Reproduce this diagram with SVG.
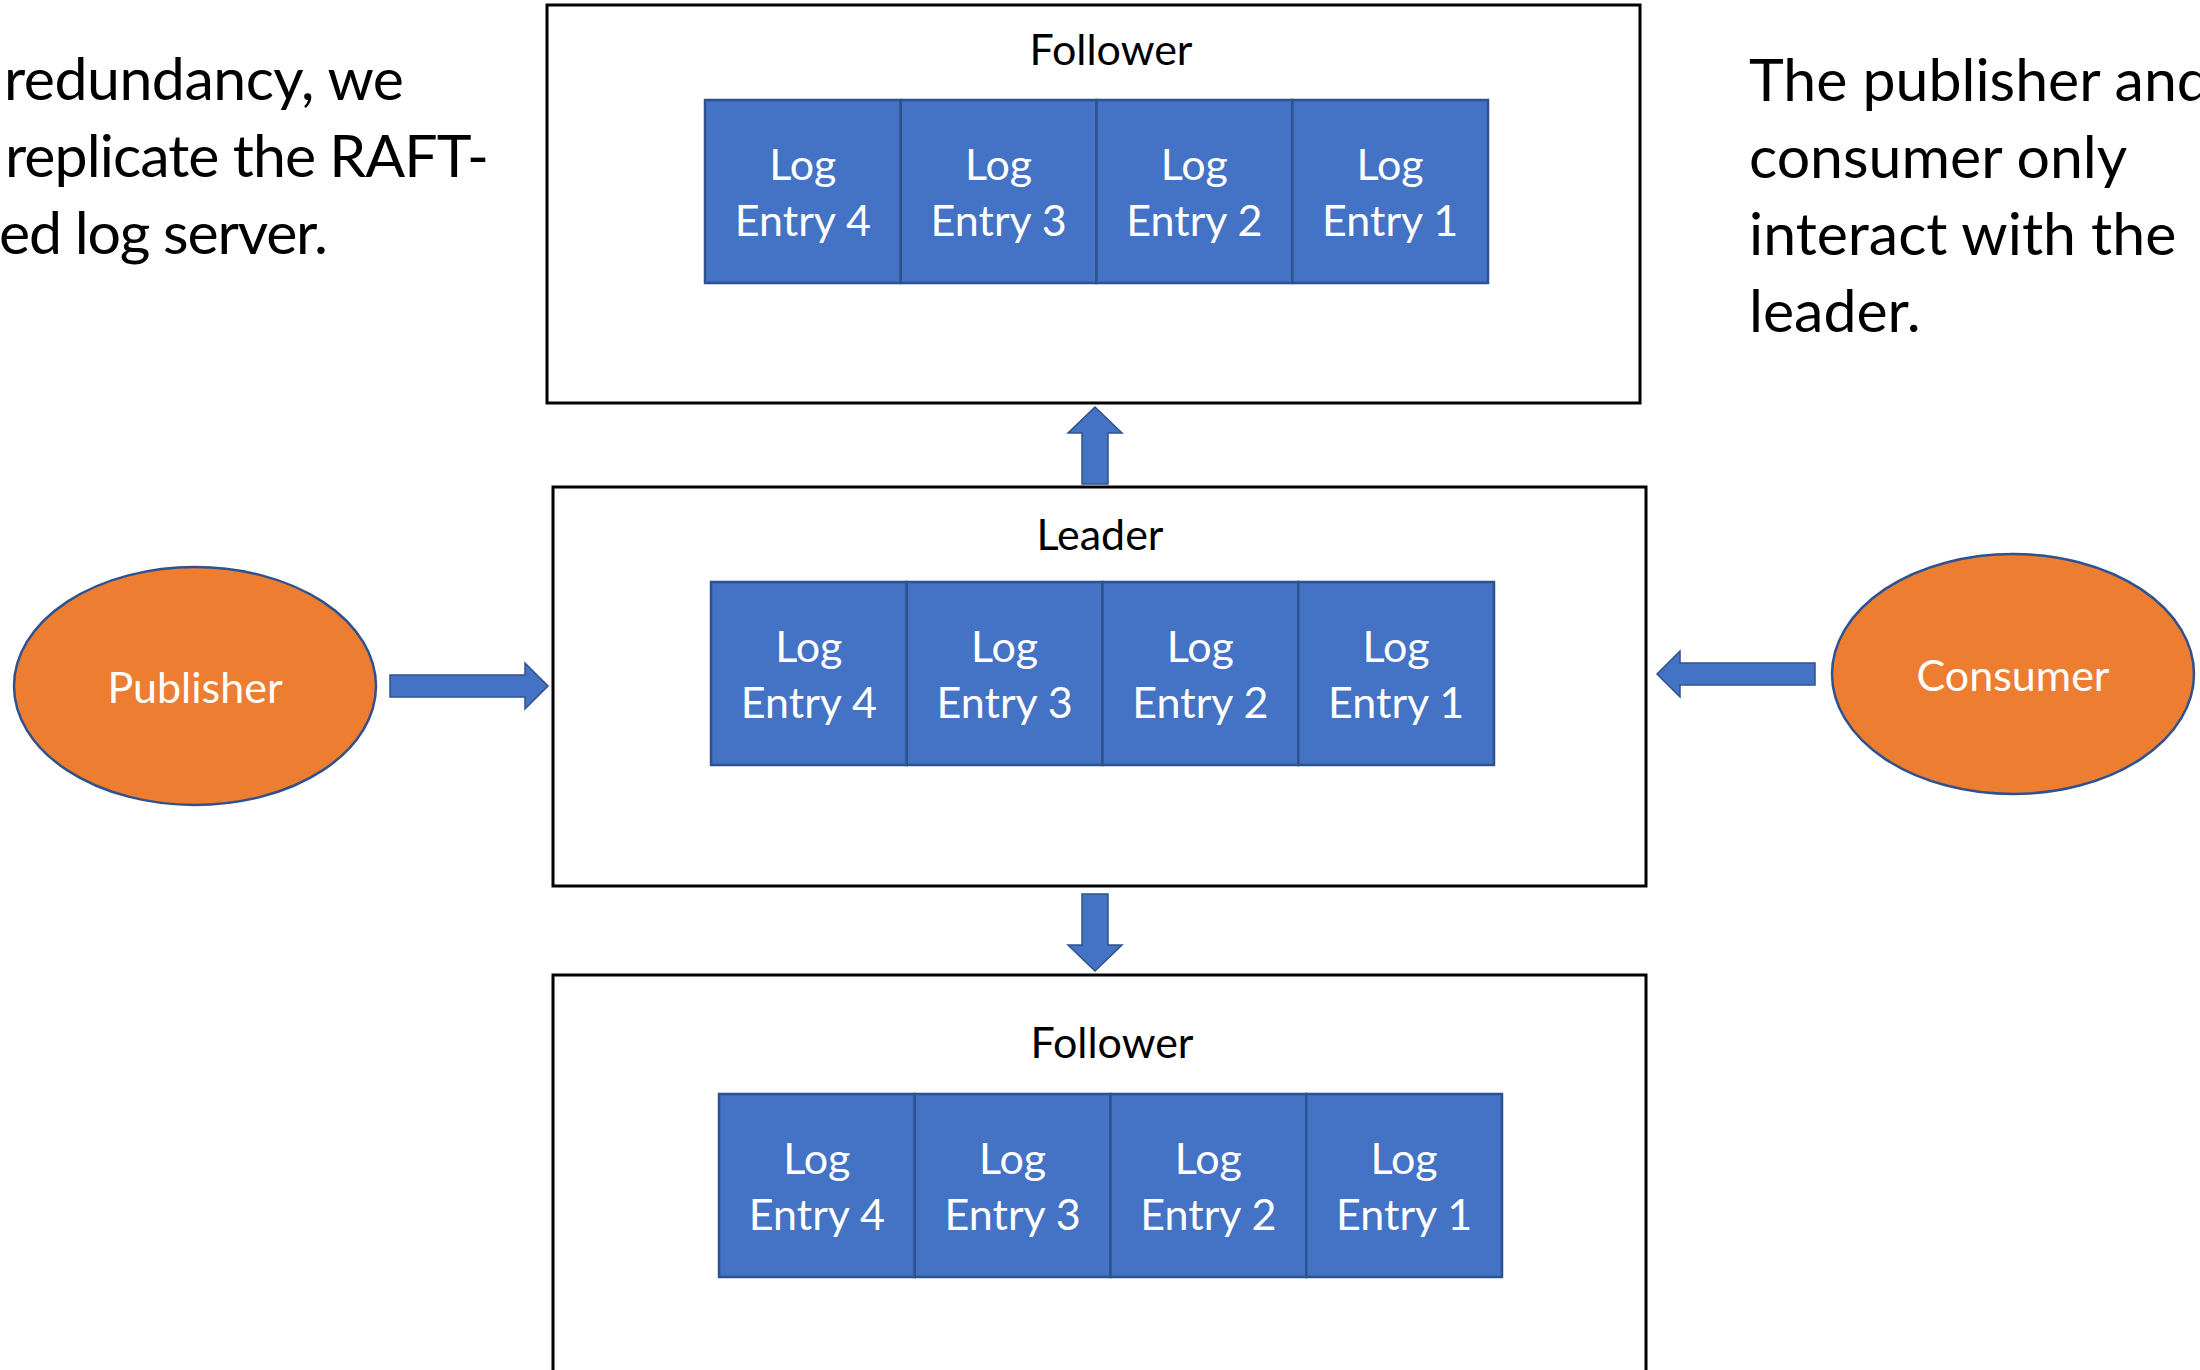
<svg xmlns="http://www.w3.org/2000/svg" width="2200" height="1370" viewBox="0 0 2200 1370">
  <style>
    .box { fill: #ffffff; stroke: #000000; stroke-width: 3; }
    .cell { fill: #4472C4; stroke: #2F528F; stroke-width: 2.5; }
    .ell { fill: #ED7D31; stroke: #2F528F; stroke-width: 2.5; }
    .arrow { fill: #4472C4; stroke: #2F528F; stroke-width: 1.5; }
    .t { font-family: Lato, "Open Sans", sans-serif; }
    .title { font-size: 43px; fill: #000000; text-anchor: middle; }
    .ct { font-size: 43px; fill: #ffffff; text-anchor: middle; }
    .para { font-size: 59px; fill: #000000; }
  </style>
  <rect width="2200" height="1370" fill="#ffffff"/>

  <g id="note-left" class="t para">
    <text x="4" y="100" textLength="400">redundancy, we</text>
    <text x="5" y="177" textLength="484">replicate the RAFT-</text>
    <text x="-1" y="254" textLength="329">ed log server.</text>
  </g>
  <g id="note-right" class="t para">
    <text x="1749" y="101">The publisher and</text>
    <text x="1749" y="178">consumer only</text>
    <text x="1749" y="255">interact with the</text>
    <text x="1749" y="332">leader.</text>
  </g>

  <g id="follower-top">
    <rect class="box" x="547" y="5" width="1093" height="398"/>
    <text class="t title" x="1111" y="65">Follower</text>
    <g>
      <rect class="cell" x="705" y="100" width="195.75" height="183"/>
      <rect class="cell" x="900.75" y="100" width="195.75" height="183"/>
      <rect class="cell" x="1096.5" y="100" width="195.75" height="183"/>
      <rect class="cell" x="1292.25" y="100" width="195.75" height="183"/>
      <text class="t ct" x="802.9" y="180">Log</text><text class="t ct" x="802.9" y="236">Entry 4</text>
      <text class="t ct" x="998.6" y="180">Log</text><text class="t ct" x="998.6" y="236">Entry 3</text>
      <text class="t ct" x="1194.4" y="180">Log</text><text class="t ct" x="1194.4" y="236">Entry 2</text>
      <text class="t ct" x="1390.1" y="180">Log</text><text class="t ct" x="1390.1" y="236">Entry 1</text>
    </g>
  </g>

  <g id="leader">
    <rect class="box" x="553" y="487" width="1093" height="399"/>
    <text class="t title" x="1100" y="550">Leader</text>
    <g>
      <rect class="cell" x="711" y="582" width="195.75" height="183"/>
      <rect class="cell" x="906.75" y="582" width="195.75" height="183"/>
      <rect class="cell" x="1102.5" y="582" width="195.75" height="183"/>
      <rect class="cell" x="1298.25" y="582" width="195.75" height="183"/>
      <text class="t ct" x="808.9" y="662">Log</text><text class="t ct" x="808.9" y="718">Entry 4</text>
      <text class="t ct" x="1004.6" y="662">Log</text><text class="t ct" x="1004.6" y="718">Entry 3</text>
      <text class="t ct" x="1200.4" y="662">Log</text><text class="t ct" x="1200.4" y="718">Entry 2</text>
      <text class="t ct" x="1396.1" y="662">Log</text><text class="t ct" x="1396.1" y="718">Entry 1</text>
    </g>
  </g>

  <g id="follower-bottom">
    <rect class="box" x="553" y="975" width="1093" height="420"/>
    <text class="t title" x="1112" y="1058">Follower</text>
    <g>
      <rect class="cell" x="719" y="1094" width="195.75" height="183"/>
      <rect class="cell" x="914.75" y="1094" width="195.75" height="183"/>
      <rect class="cell" x="1110.5" y="1094" width="195.75" height="183"/>
      <rect class="cell" x="1306.25" y="1094" width="195.75" height="183"/>
      <text class="t ct" x="816.9" y="1174">Log</text><text class="t ct" x="816.9" y="1230">Entry 4</text>
      <text class="t ct" x="1012.6" y="1174">Log</text><text class="t ct" x="1012.6" y="1230">Entry 3</text>
      <text class="t ct" x="1208.4" y="1174">Log</text><text class="t ct" x="1208.4" y="1230">Entry 2</text>
      <text class="t ct" x="1404.1" y="1174">Log</text><text class="t ct" x="1404.1" y="1230">Entry 1</text>
    </g>
  </g>

  <g id="publisher">
    <ellipse class="ell" cx="195" cy="686" rx="181" ry="119"/>
    <text class="t ct" x="195" y="703">Publisher</text>
  </g>

  <g id="consumer">
    <ellipse class="ell" cx="2013" cy="674" rx="181" ry="120"/>
    <text class="t ct" x="2013" y="691">Consumer</text>
  </g>

  <g id="connectors">
    <polygon class="arrow" points="390,675 525,675 525,663 548,686 525,709 525,697 390,697"/>
    <polygon class="arrow" points="1815,663 1680,663 1680,651 1657,674 1680,697 1680,685 1815,685"/>
    <polygon class="arrow" points="1082,484 1082,433 1068,433 1095,407 1122,433 1108,433 1108,484"/>
    <polygon class="arrow" points="1082,894 1108,894 1108,945 1122,945 1095,971 1068,945 1082,945"/>
  </g>
</svg>
